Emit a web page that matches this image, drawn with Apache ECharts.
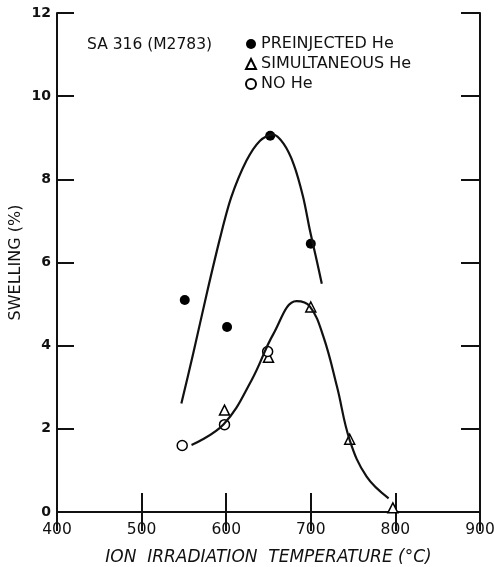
<!DOCTYPE html>
<html>
<head>
<meta charset="utf-8">
<script src="https://cdn.jsdelivr.net/npm/echarts@6/dist/echarts.min.js"></script>
<style>
  html, body { margin: 0; padding: 0; background: #fff; }
  #chart { width: 494px; height: 567px; }
</style>
</head>
<body>
<div id="chart"></div>
<script>
// measured points [temperature °C, swelling %]
var preinjected = [[551, 5.1], [601, 4.45], [652, 9.05], [700, 6.45]];
var simultaneous = [[598, 2.45], [650, 3.72], [700, 4.93], [746, 1.75], [797, 0.1]];
var noHe = [[548, 1.6], [598, 2.1], [649, 3.86]];

// hand-drawn trend curves
var upperCurve = [[547, 2.61], [561, 3.81], [577, 5.25], [593, 6.61], [606, 7.57], [624, 8.45],
  [640, 8.93], [655, 9.08], [668, 8.85], [680, 8.35], [691, 7.57], [699, 6.77], [707, 6.05], [713, 5.49]];
var lowerCurve = [[559, 1.61], [597, 2.11], [630, 3.17], [656, 4.29], [683, 5.07], [699, 4.94],
  [715, 4.21], [731, 3.01], [746, 1.73], [766, 0.85], [792, 0.33]];

var xTicks = { min: 400, max: 900, step: 100 };
var yTicks = { min: 0, max: 12, step: 2 };

var font = 'DejaVu Sans';
var chart = echarts.init(document.getElementById('chart'));

var axisLine = { show: true, lineStyle: { color: '#111', width: 2 } };
var tick = function (len) {
  return { show: true, inside: true, length: len, lineStyle: { color: '#111', width: 2 } };
};

chart.setOption({
  backgroundColor: '#fff',
  animation: false,
  textStyle: { fontFamily: font, color: '#111' },
  title: {
    text: 'SA 316 (M2783)',
    left: 82,
    top: 32,
    textStyle: { fontSize: 15.5, fontWeight: 'normal', color: '#111', fontFamily: font }
  },
  legend: {
    orient: 'vertical',
    left: 240,
    top: 31,
    itemGap: 4,
    itemWidth: 10,
    itemHeight: 10,
    data: ['PREINJECTED He', 'SIMULTANEOUS He', 'NO He'],
    textStyle: { fontSize: 16, color: '#111', fontFamily: font }
  },
  grid: { left: 57, right: 14, top: 13, bottom: 55, outerBoundsMode: 'none' },
  xAxis: [
    {
      type: 'value',
      min: xTicks.min, max: xTicks.max, interval: xTicks.step,
      name: 'ION  IRRADIATION  TEMPERATURE (°C)',
      nameLocation: 'middle',
      nameGap: 37,
      nameMoveOverlap: false,
      nameTextStyle: { fontSize: 17, fontStyle: 'italic', color: '#111', fontFamily: font },
      axisLine: axisLine,
      axisTick: tick(19),
      axisLabel: { fontSize: 15.5, color: '#111', margin: 10 },
      splitLine: { show: false }
    },
    {
      type: 'value', position: 'top',
      min: xTicks.min, max: xTicks.max, interval: xTicks.step,
      axisLine: axisLine,
      axisTick: tick(19),
      axisLabel: { show: false },
      splitLine: { show: false }
    }
  ],
  yAxis: [
    {
      type: 'value',
      min: yTicks.min, max: yTicks.max, interval: yTicks.step,
      name: 'SWELLING (%)',
      nameLocation: 'middle',
      nameGap: 33,
      nameMoveOverlap: false,
      nameTextStyle: { fontSize: 16, color: '#111', fontFamily: font },
      axisLine: axisLine,
      axisTick: tick(17),
      axisLabel: { fontSize: 14, fontWeight: 'bold', color: '#111', margin: 6 },
      splitLine: { show: false }
    },
    {
      type: 'value', position: 'right',
      min: yTicks.min, max: yTicks.max, interval: yTicks.step,
      axisLine: axisLine,
      axisTick: tick(19),
      axisLabel: { show: false },
      splitLine: { show: false }
    }
  ],
  series: [
    {
      name: 'upper fit', type: 'line', data: upperCurve, smooth: 0.3,
      showSymbol: false, lineStyle: { color: '#111', width: 2.2 }, silent: true
    },
    {
      name: 'lower fit', type: 'line', data: lowerCurve, smooth: 0.4,
      showSymbol: false, lineStyle: { color: '#111', width: 2.2 }, silent: true
    },
    {
      name: 'PREINJECTED He', type: 'scatter', data: preinjected,
      symbol: 'circle', symbolSize: 10,
      itemStyle: { color: '#000', opacity: 1 }
    },
    {
      name: 'SIMULTANEOUS He', type: 'scatter', data: simultaneous,
      symbol: 'triangle', symbolSize: 10,
      itemStyle: { color: '#fff', borderColor: '#000', borderWidth: 1.5, opacity: 1 }
    },
    {
      name: 'NO He', type: 'scatter', data: noHe,
      symbol: 'circle', symbolSize: 10,
      itemStyle: { color: '#fff', borderColor: '#000', borderWidth: 1.5, opacity: 1 }
    }
  ]
});
</script>
</body>
</html>
